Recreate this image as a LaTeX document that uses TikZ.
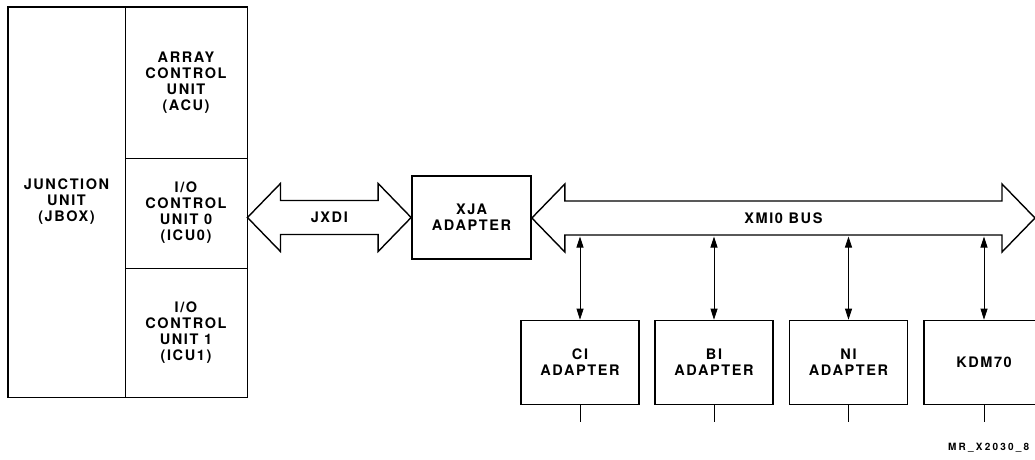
\documentclass[tikz,border=0pt]{standalone}
\usepackage{fontspec}
\newfontfamily\lbl[LetterSpace=11]{TeX Gyre Heros}
\newfontfamily\capfont[LetterSpace=22]{TeX Gyre Heros}
\usetikzlibrary{arrows.meta,calc}
\newcommand\fatarrow[2]{%
  \draw[fat] let \p1=(#1), \p2=(#2) in
    (\x1,\y1) -- (\x1+33pt,\y1+34pt) -- (\x1+33pt,\y1+17pt) --
    (\x2-33pt,\y1+17pt) -- (\x2-33pt,\y1+34pt) -- (\x2,\y1) --
    (\x2-33pt,\y1-34pt) -- (\x2-33pt,\y1-17pt) -- (\x1+33pt,\y1-17pt) --
    (\x1+33pt,\y1-34pt) -- cycle;}
\begin{document}
\begin{tikzpicture}[x=1pt,y=-1pt,
  txt/.style={font=\lbl\bfseries\fontsize{14.5}{16}\selectfont, align=center, inner sep=0pt},
  cell/.style={txt, draw, line width=0.9pt},
  box/.style={txt, draw, line width=1.7pt, minimum width=118pt, minimum height=84pt},
  fat/.style={draw, line width=1.4pt, fill=white, line join=miter},
  biarrow/.style={{Triangle[length=11pt,width=7pt]}-{Triangle[length=11pt,width=7pt]}, line width=0.8pt},
  stub/.style={line width=0.8pt}]
\useasboundingbox (0,0) rectangle (1035,460);
\clip (0,0) rectangle (1035,460);
% left block
\node[cell, minimum width=117pt, minimum height=390pt] (jbox) at (66.5,202) {JUNCTION\\UNIT\\(JBOX)};
\node[cell, minimum width=122pt, minimum height=151pt] (acu) at (186,82.5) {ARRAY\\CONTROL\\UNIT\\(ACU)};
\node[cell, minimum width=122pt, minimum height=110pt] (icu0) at (186,213) {I/O\\CONTROL\\UNIT 0\\(ICU0)};
\node[cell, minimum width=122pt, minimum height=129pt] (icu1) at (186,332.5) {I/O\\CONTROL\\UNIT 1\\(ICU1)};
\draw[line width=1.8pt] (jbox.north west) rectangle (icu1.south east);
% XJA adapter
\node[box, minimum width=119pt, minimum height=83pt] (xja) at (471.5,217.5) {XJA\\ADAPTER};
% JXDI
\coordinate (jl) at (icu0.east |- xja.west);
\fatarrow{jl}{xja.west}
\node[txt] (jxdi) at ($(jl)!0.5!(xja.west)$) {JXDI};
% XMI bus
\coordinate (busr) at (1035,218);
\coordinate (busl) at (xja.east |- busr);
\fatarrow{busl}{busr}
\node[txt] (xmi) at ($(busl)!0.5!(busr)$) {XMI0 BUS};
\coordinate (busb) at (600,236.5);
% adapters
\node[box] (ci) at (580,362.5) {CI\\ADAPTER};
\node[box] (bi) at (714,362.5) {BI\\ADAPTER};
\node[box] (ni) at (848.5,362.5) {NI\\ADAPTER};
\node[box, minimum width=120pt] (kdm) at (984,362.5) {KDM70};
\foreach \n in {ci,bi,ni,kdm}{
  \draw[biarrow] (\n.north) -- (\n.north |- busb);
  \draw[stub] (\n.south) -- ++(0,17);
}
\node[font=\capfont\bfseries\fontsize{10}{12}\selectfont, anchor=west, inner sep=0pt] (cap) at (948,448) {MR\_X2030\_8};
\end{tikzpicture}
\end{document}
